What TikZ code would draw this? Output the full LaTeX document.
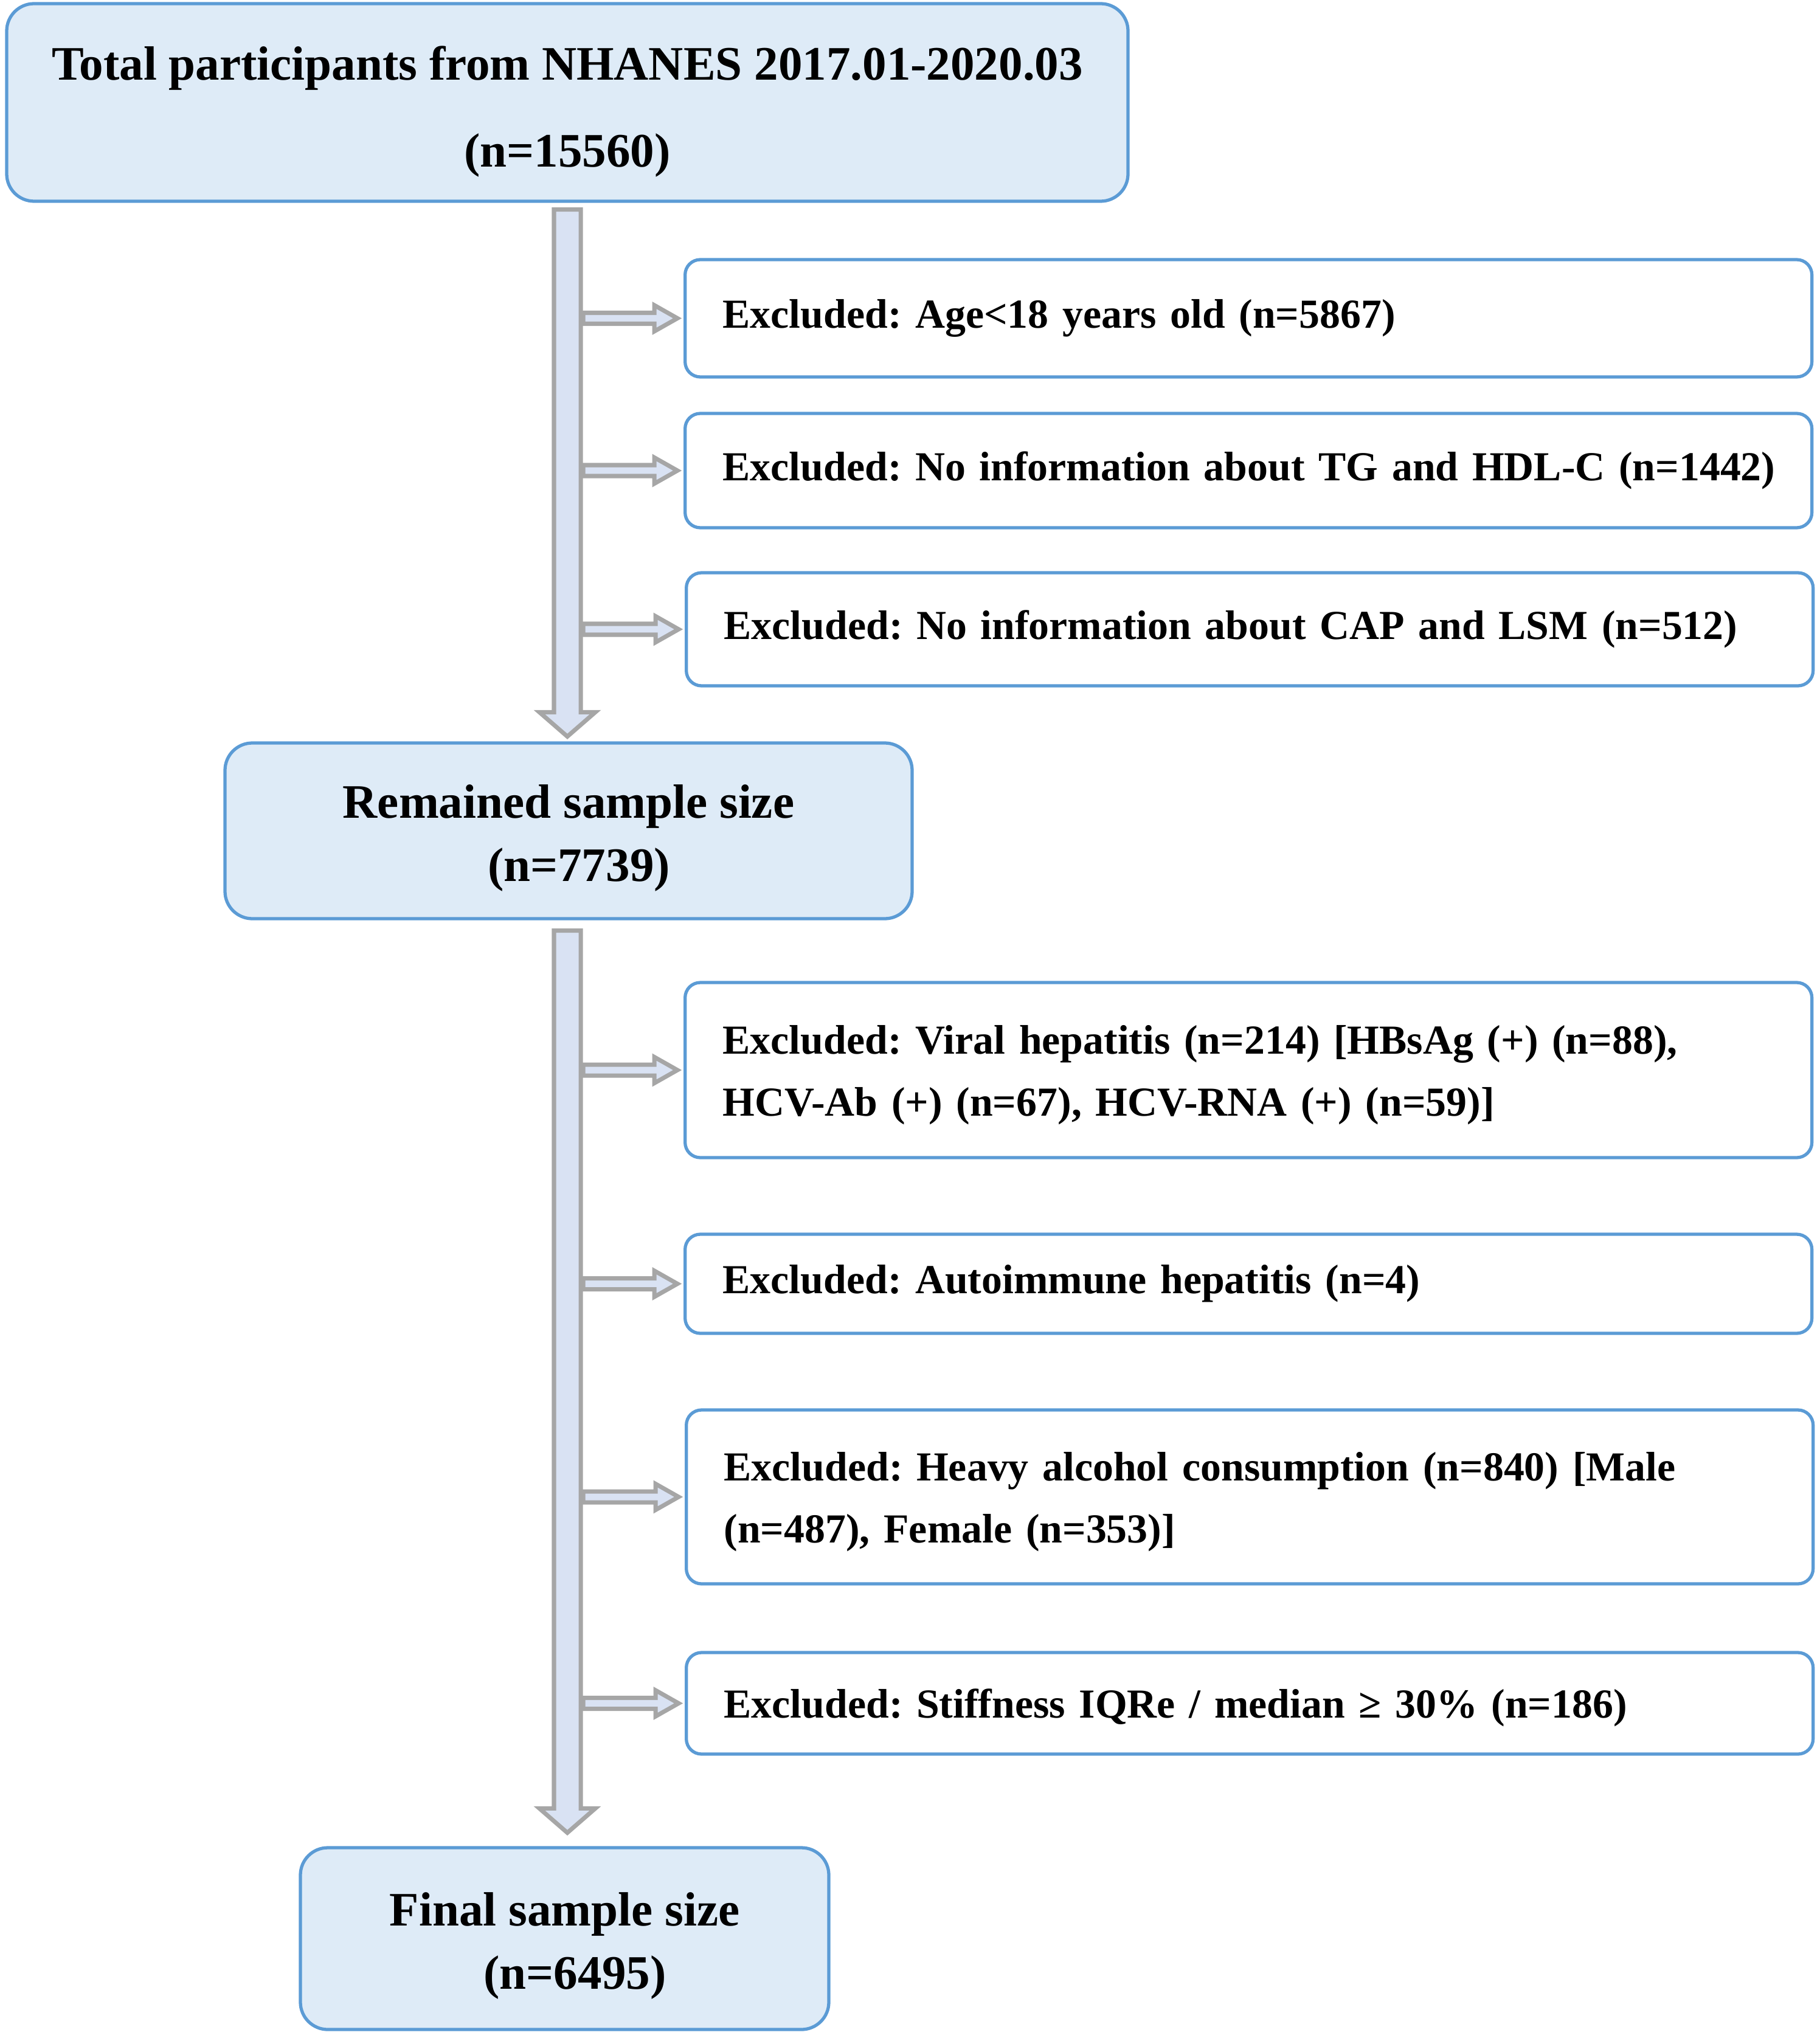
\documentclass[tikz,border=0pt]{standalone}
\usepackage{fontspec}
\setmainfont{Liberation Serif}
\usepackage{tikz}
\usetikzlibrary{calc}
\definecolor{boxblue}{HTML}{DEEBF7}
\definecolor{edgeblue}{HTML}{5B9BD5}
\definecolor{arrowfill}{HTML}{D9E2F3}
\definecolor{arrowedge}{HTML}{A6A6A6}
\frenchspacing

\begin{document}
\begin{tikzpicture}[
    mainbox/.style={draw=edgeblue,line width=1.5pt,fill=boxblue,rounded corners=0.45cm,align=center,font=\bfseries\fontsize{22.5}{29.5}\selectfont},
    exbox/.style={draw=edgeblue,line width=1.5pt,fill=white,rounded corners=0.25cm,anchor=west,text width=17.29cm,inner xsep=0.62cm,align=left,font=\bfseries\fontsize{19.3}{29}\selectfont},
    blockarrow/.style={draw=arrowedge,fill=arrowfill,line width=2pt,line join=miter}]
    \useasboundingbox (0,0) rectangle (29.92,-33.52);
    \node[mainbox,minimum width=18.44cm,minimum height=3.25cm,font=\bfseries\fontsize{22.5}{40.6}\selectfont] (total) at (9.33,-1.685) {\rule{0pt}{24.5pt}Total participants from NHANES 2017.01-2020.03\\(n=15560)};
    \node[mainbox,minimum width=11.3cm,minimum height=2.89cm] (remained) at (9.35,-13.665) {\rule{0pt}{22.5pt}Remained sample size\\\hspace*{0.34cm}(n=7739)};
    \node[mainbox,minimum width=8.69cm,minimum height=2.99cm] (final) at (9.285,-31.885) {\rule{0pt}{22.5pt}Final sample size\\\hspace*{0.34cm}(n=6495)};
    \node[exbox,minimum height=1.93cm] (ex1) at (11.24,-5.235) {Excluded: Age<18 years old (n=5867)};
    \node[exbox,minimum height=1.88cm] (ex2) at (11.24,-7.74) {\mbox{Excluded: No information about TG and HDL-C (n=1442)}};
    \node[exbox,minimum height=1.86cm] (ex3) at (11.26,-10.35) {Excluded: No information about CAP and LSM (n=512)};
    \node[exbox,minimum height=2.88cm] (ex4) at (11.24,-17.6) {\rule{0pt}{18pt}Excluded: Viral hepatitis (n=214) [HBsAg (+) (n=88),\\HCV-Ab (+) (n=67), HCV-RNA (+) (n=59)]};
    \node[exbox,minimum height=1.63cm] (ex5) at (11.24,-21.115) {Excluded: Autoimmune hepatitis (n=4)};
    \node[exbox,minimum height=2.86cm] (ex6) at (11.26,-24.62) {\rule{0pt}{18pt}Excluded: Heavy alcohol consumption (n=840) [Male\\(n=487), Female (n=353)]};
    \node[exbox,minimum height=1.67cm] (ex7) at (11.26,-28.015) {\rule{0pt}{18pt}Excluded: Stiffness IQRe / median ≥ 30\% (n=186)};
    \coordinate (a1s) at ($(total.south)+(0,-0.11)$);
    \coordinate (a1e) at ($(a1s |- remained.north)+(0,0.08)$);
    \coordinate (a2s) at ($(a1s |- remained.south)+(0,-0.17)$);
    \coordinate (a2e) at ($(a1s |- final.north)+(0,0.22)$);
    \foreach \b in {ex1,ex2,ex3,ex4,ex5,ex6,ex7}
      \draw[blockarrow] ($(a1s |- \b.west)+(0.26,0.09)$) -- ($(\b.west)+(-0.48,0.09)$) -- ($(\b.west)+(-0.48,0.215)$) -- ($(\b.west)+(-0.1,0)$) -- ($(\b.west)+(-0.48,-0.215)$) -- ($(\b.west)+(-0.48,-0.09)$) -- ($(a1s |- \b.west)+(0.26,-0.09)$) -- cycle;
    \foreach \s/\e in {a1s/a1e,a2s/a2e}
      \draw[blockarrow] ($(\s)+(-0.22,0)$) -- ($(\e)+(-0.22,0.4)$) -- ($(\e)+(-0.46,0.4)$) -- (\e) -- ($(\e)+(0.46,0.4)$) -- ($(\e)+(0.22,0.4)$) -- ($(\s)+(0.22,0)$) -- cycle;
\end{tikzpicture}
\end{document}
